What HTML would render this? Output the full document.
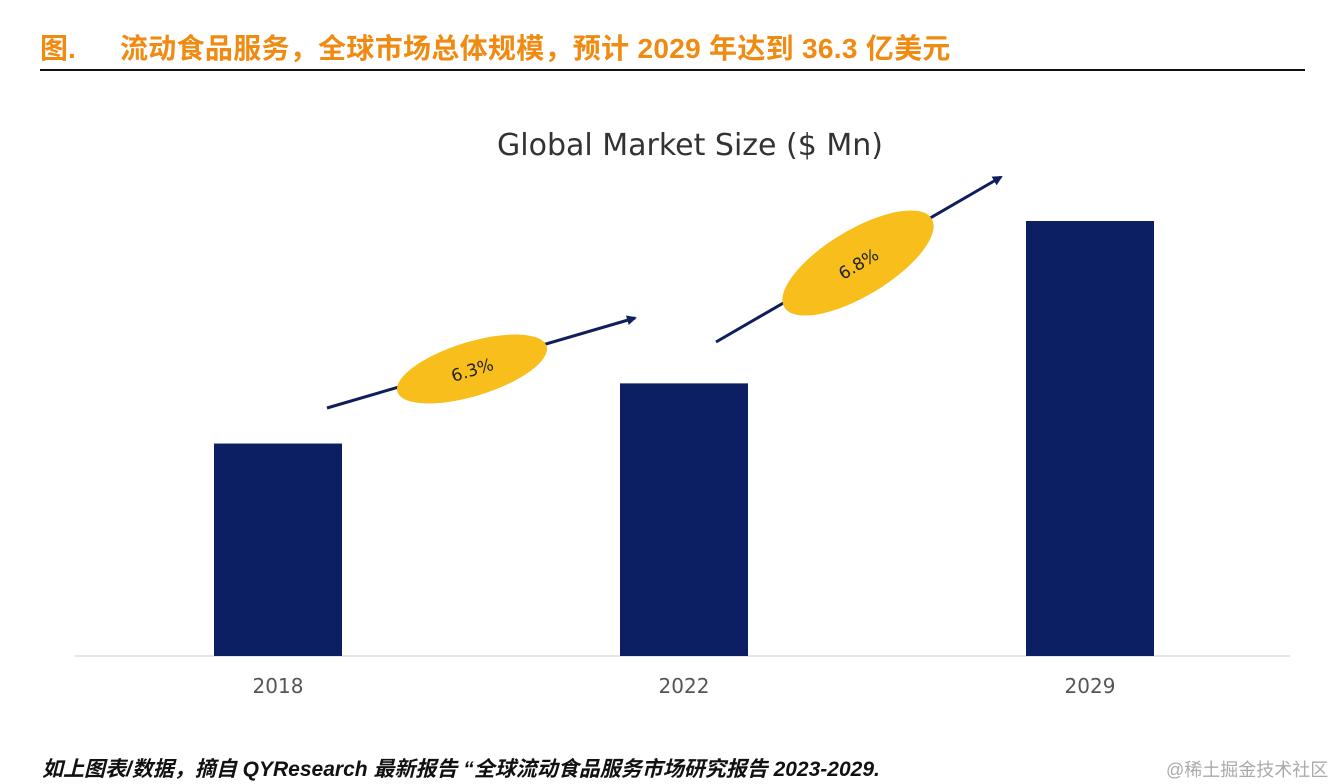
<!DOCTYPE html>
<html><head><meta charset="utf-8">
<style>
html,body{margin:0;padding:0;background:#fff;}
body{width:1332px;height:784px;overflow:hidden;position:relative;font-family:"Liberation Sans","Noto Sans CJK SC",sans-serif;}
#title{position:absolute;left:40px;top:27px;font-size:28px;font-weight:bold;color:#f08a10;white-space:nowrap;}
#title .t{position:absolute;left:80px;top:0;letter-spacing:0.3px;}
#rule{position:absolute;left:40px;top:69px;width:1265px;height:2px;background:#111;}
#foot{position:absolute;left:42px;top:753px;font-size:21px;font-style:italic;font-weight:bold;color:#111;white-space:nowrap;}
#wm{position:absolute;left:1166px;top:756px;font-size:18px;color:#aaa;white-space:nowrap;}
svg{position:absolute;left:0;top:0;}
</style></head><body>
<div id="title">图.<span class="t">流动食品服务，全球市场总体规模，预计 2029 年达到 36.3 亿美元</span></div>
<div id="rule"></div>
<svg id="chart" width="1332" height="784">
<defs><marker id="ah" markerWidth="10" markerHeight="10" refX="8" refY="5" orient="auto" markerUnits="userSpaceOnUse" viewBox="0 0 10 10"><path d="M0,0 L10,5 L0,10 z" fill="#0f1f5e"/></marker></defs>
<text x="690" y="155" text-anchor="middle" font-family="'DejaVu Sans',sans-serif" font-size="30" fill="#333">Global Market Size ($ Mn)</text>
<line x1="75" y1="656" x2="1290" y2="656" stroke="#ddd" stroke-width="1.5"/>
<g id="bars"></g>
<g>
<line x1="327" y1="408" x2="635" y2="318" stroke="#0f1f5e" stroke-width="3" marker-end="url(#ah)"/>
<ellipse cx="472" cy="369" rx="78" ry="27" transform="rotate(-17 472 369)" fill="#f7be1c"/>
<text x="472" y="376" text-anchor="middle" transform="rotate(-17 472 369)" font-size="17" fill="#222" font-family="'DejaVu Sans',sans-serif">6.3%</text>
</g>
<g>
<line x1="716" y1="342" x2="1001" y2="177" stroke="#0f1f5e" stroke-width="3" marker-end="url(#ah)"/>
<ellipse cx="858" cy="263" rx="86" ry="33" transform="rotate(-31 858 263)" fill="#f7be1c"/>
<text x="858" y="270" text-anchor="middle" transform="rotate(-31 858 263)" font-size="17" fill="#222" font-family="'DejaVu Sans',sans-serif">6.8%</text>
</g>
</svg>
<div id="foot">如上图表/数据，摘自 QYResearch 最新报告 “全球流动食品服务市场研究报告 2023-2029.</div>
<div id="wm">@稀土掘金技术社区</div>
<script>
const categories = ["2018", "2022", "2029"];
const values = [1773, 2275, 3630];
const yMax = 3630;
const ns = "http://www.w3.org/2000/svg";
const baseY = 656, topY = 221;
function yScale(v){ return baseY - (v / yMax) * (baseY - topY); }
function xCenter(i){ return 278 + i * 406; }
const g = document.getElementById('bars');
const svg = document.getElementById('chart');
categories.forEach((c, i) => {
  const r = document.createElementNS(ns, 'rect');
  
  
  r.setAttribute('x', xCenter(i) - 64);
  r.setAttribute('width', 128);
  r.setAttribute('y', yScale(values[i]));
  r.setAttribute('height', baseY - yScale(values[i]));
  r.setAttribute('fill', '#0d1f63');
  g.appendChild(r);
  const t = document.createElementNS(ns, 'text');
  
  
  t.setAttribute('x', xCenter(i));
  t.setAttribute('y', 693);
  t.setAttribute('text-anchor', 'middle');
  t.setAttribute('font-size', '20');
  t.setAttribute('fill', '#555');
  t.setAttribute('font-family', "'DejaVu Sans',sans-serif");
  t.textContent = c;
  svg.appendChild(t);
});
</script>
</body></html>
